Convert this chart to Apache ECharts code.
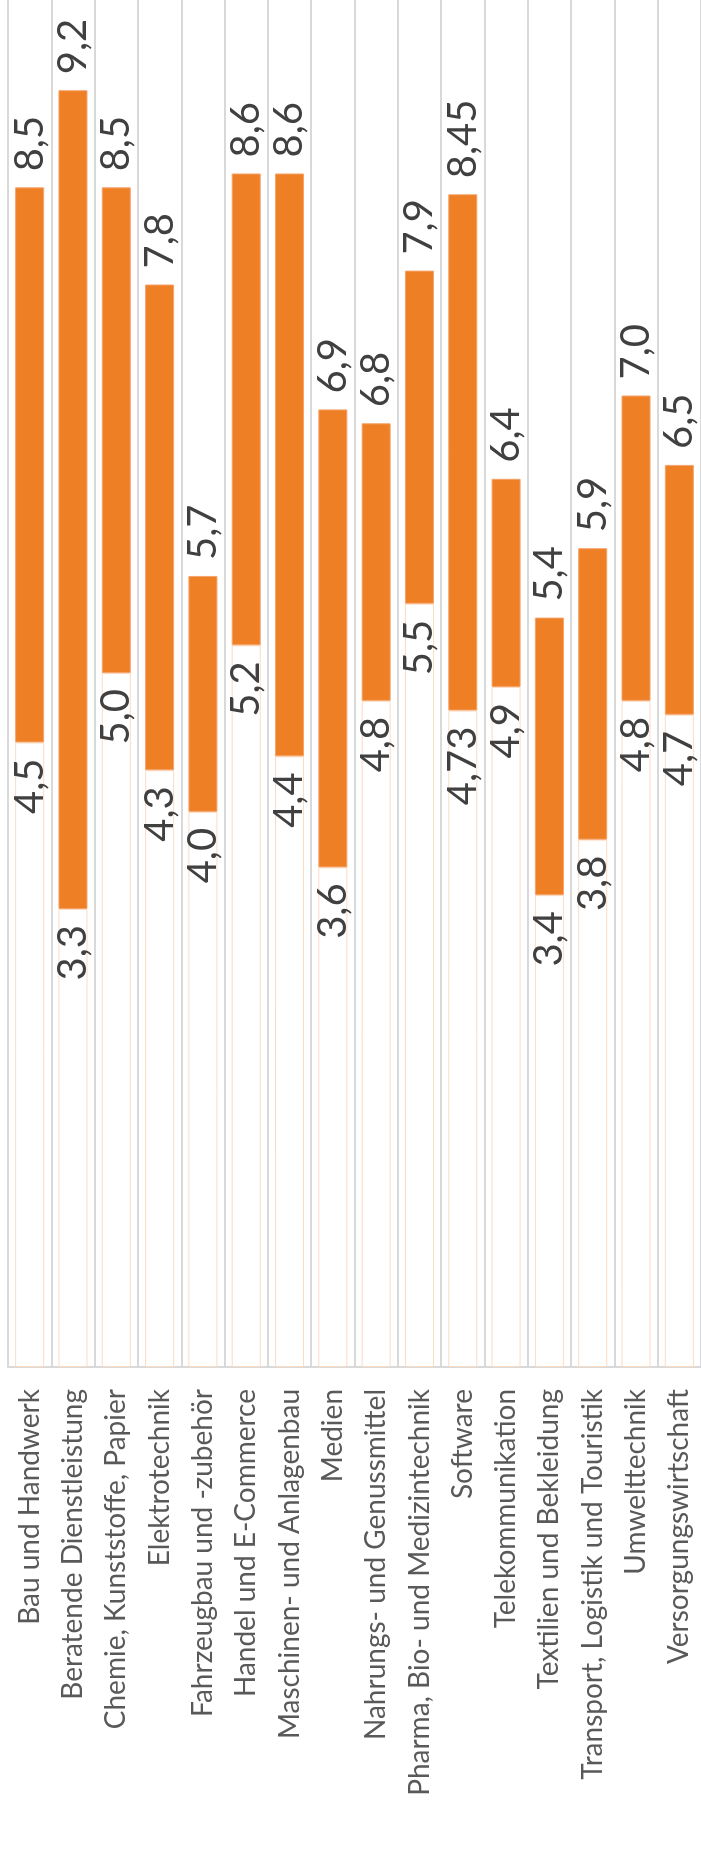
<!DOCTYPE html>
<html>
<head>
<meta charset="utf-8">
<script src="https://cdn.jsdelivr.net/npm/echarts@6/dist/echarts.min.js"></script>
<style>
  html, body { margin: 0; padding: 0; background: #ffffff; }
  #chart { width: 701px; height: 1874px; }
</style>
</head>
<body>
<div id="chart"></div>
<script>
// Branchen (Kategorien)
const categories = [
  'Bau und Handwerk',
  'Beratende Dienstleistung',
  'Chemie, Kunststoffe, Papier',
  'Elektrotechnik',
  'Fahrzeugbau und -zubehör',
  'Handel und E-Commerce',
  'Maschinen- und Anlagenbau',
  'Medien',
  'Nahrungs- und Genussmittel',
  'Pharma, Bio- und Medizintechnik',
  'Software',
  'Telekommunikation',
  'Textilien und Bekleidung',
  'Transport, Logistik und Touristik',
  'Umwelttechnik',
  'Versorgungswirtschaft'
];

// Untere und obere Werte je Branche
const lowValues  = [4.5, 3.3, 5.0, 4.3, 4.0, 5.2, 4.4, 3.6, 4.8, 5.5, 4.73, 4.9, 3.4, 3.8, 4.8, 4.7];
const highValues = [8.5, 9.2, 8.5, 7.8, 5.7, 8.6, 8.6, 6.9, 6.8, 7.9, 8.45, 6.4, 5.4, 5.9, 7.0, 6.5];

// Spannweite = oberer minus unterer Wert (gestapelt auf den unsichtbaren Sockel)
const spanValues = highValues.map((h, i) => +(h - lowValues[i]).toFixed(4));

// Zahlen im deutschen Format: eine Nachkommastelle, bei Bedarf zwei
function fmt(v) {
  const s = Number.isInteger(Math.round(v * 100) / 10) ? v.toFixed(1) : v.toFixed(2);
  return s.replace('.', ',');
}

const FONT = 'Lato, "Open Sans", sans-serif';

const chart = echarts.init(document.getElementById('chart'), null, { renderer: 'canvas' });

chart.setOption({
  animation: false,
  backgroundColor: '#ffffff',
  grid: { left: 8, right: 0, top: 0, bottom: 507, containLabel: false },
  xAxis: {
    type: 'category',
    data: categories,
    boundaryGap: true,
    axisLine: { show: true, lineStyle: { color: '#d9d9d9', width: 2 } },
    axisTick: { show: false },
    splitLine: { show: true, interval: 0, lineStyle: { color: '#d9d9d9', width: 2 } },
    axisLabel: {
      interval: 0,
      rotate: 90,
      margin: 22,
      color: '#595959',
      fontFamily: FONT,
      fontSize: 28
    }
  },
  yAxis: {
    type: 'value',
    min: 0,
    max: 9.85,
    axisLine: { show: false },
    axisTick: { show: false },
    axisLabel: { show: false },
    splitLine: { show: false }
  },
  series: [
    {
      name: 'Sockel',
      type: 'bar',
      stack: 'range',
      barWidth: '67%',
      data: lowValues,
      itemStyle: { color: 'rgba(0,0,0,0)', borderColor: '#fbdcc3', borderWidth: 1 },
      label: {
        show: true,
        position: 'insideTop',
        distance: 16,
        rotate: 90,
        align: 'right',
        verticalAlign: 'middle',
        color: '#404040',
        fontFamily: FONT,
        fontSize: 40,
        formatter: p => fmt(lowValues[p.dataIndex])
      },
      emphasis: { disabled: true }
    },
    {
      name: 'Spanne',
      type: 'bar',
      stack: 'range',
      barWidth: '67%',
      data: spanValues,
      itemStyle: { color: '#ef7f24', borderColor: '#f5a36a', borderWidth: 1 },
      label: {
        show: true,
        position: 'top',
        distance: 16,
        rotate: 90,
        align: 'left',
        verticalAlign: 'middle',
        color: '#404040',
        fontFamily: FONT,
        fontSize: 40,
        formatter: p => fmt(highValues[p.dataIndex])
      },
      emphasis: { disabled: true }
    }
  ]
});
</script>
</body>
</html>
